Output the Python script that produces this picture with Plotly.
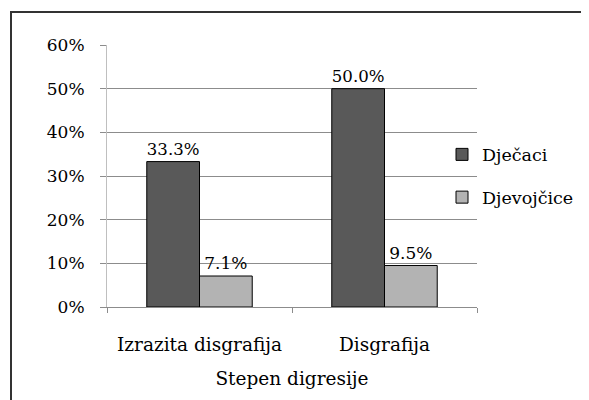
import plotly.graph_objects as go

categories = ["Izrazita disgrafija", "Disgrafija"]
series_names = ["Dječaci", "Djevojčice"]
djecaci = [33.3, 50.0]
djevojcice = [7.1, 9.5]
y_ticks = [0, 10, 20, 30, 40, 50, 60]
y_tick_labels = ["0%", "10%", "20%", "30%", "40%", "50%", "60%"]
x_title = "Stepen digresije"

FONT = "DejaVu Serif"
FS = 17      # numbers
FT = 18.5    # words

# page body has an 8px margin, so figure coords = screen coords - 8
L, R, T, B = 99, 120, 37, 101
PW, PH = 589 - L - R, 400 - T - B

fig = go.Figure()
for name, vals, color, grp in [(series_names[0], djecaci, "#595959", "a"),
                               (series_names[1], djevojcice, "#b3b3b3", "b")]:
    fig.add_trace(go.Bar(
        x=categories, y=vals, name=name,
        marker=dict(color=color, line=dict(color="#000000", width=1)),
        text=[f"{v:.1f}%" for v in vals], textposition="outside",
        textfont=dict(family=FONT, size=FS, color="#000000"),
        cliponaxis=False, legendgroup=grp,
    ))

fig.update_layout(
    width=589, height=400,
    margin=dict(l=L, r=R, t=T, b=B, autoexpand=False),
    paper_bgcolor="white", plot_bgcolor="white",
    font=dict(family=FONT, size=FS, color="#000000"),
    barmode="group", bargap=0.43, bargroupgap=0,
    legend=dict(x=(434 - L) / PW, xanchor="left", y=0.5, yanchor="middle",
                font=dict(family=FONT, size=17.5), tracegroupgap=17,
                traceorder="grouped", itemwidth=30, bgcolor="rgba(0,0,0,0)"),
    showlegend=True,
)
fig.update_yaxes(
    range=[0, 60], tickvals=y_ticks, ticktext=y_tick_labels,
    tickfont=dict(family=FONT, size=FS),
    showgrid=True, gridcolor="#8c8c8c", gridwidth=1,
    showline=True, linecolor="#bfbfbf", linewidth=1,
    ticks="outside", ticklen=6, tickcolor="#8c8c8c",
    zeroline=False, ticklabelstandoff=12,
)
fig.update_xaxes(
    showline=True, linecolor="#8c8c8c", linewidth=1,
    ticks="outside", ticklen=5, tickcolor="#8c8c8c", tickson="boundaries",
    showgrid=False, ticklabelstandoff=21, tickfont=dict(family=FONT, size=FT),
    title=dict(text=x_title, font=dict(family=FONT, size=FT), standoff=17),
)
# outer chart border (top and left visible; right/bottom beyond view)
fig.add_shape(type="rect", xref="paper", yref="paper",
              x0=(3 - L) / PW, x1=1.6, y0=-0.8, y1=1 + (T - 4) / PH,
              line=dict(color="#333333", width=2), fillcolor="rgba(0,0,0,0)", layer="below")

fig.write_html("out.html")
